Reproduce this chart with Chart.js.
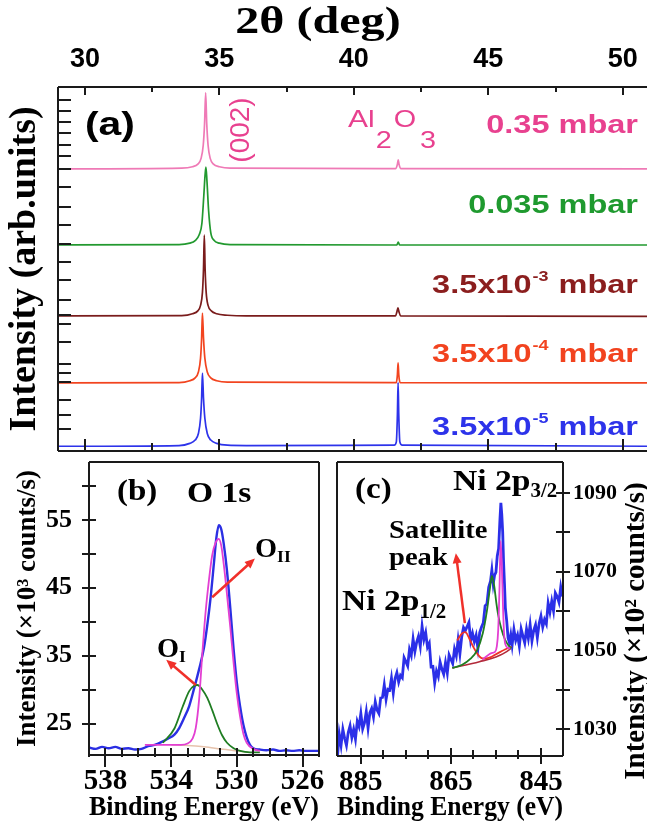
<!DOCTYPE html>
<html lang="en">
<head>
<meta charset="UTF-8">
<title>XRD and XPS of Ni-doped films</title>
<script src="https://cdn.jsdelivr.net/npm/chart.js"></script>
<style>
  body { margin: 0; background: #fff; }
  #wrap { position: relative; width: 647px; height: 827px; overflow: hidden; }
  canvas { position: absolute; }
</style>
</head>
<body>
<div id="wrap">
  <canvas id="xrd" width="647" height="455" style="left:0;top:0"></canvas>
  <canvas id="o1s" width="330" height="372" style="left:0;top:455px"></canvas>
  <canvas id="ni2p" width="317" height="372" style="left:330px;top:455px"></canvas>
</div>
<script>
const SERIF = '"Liberation Serif", "Times New Roman", serif';
const SANS = '"Liberation Sans", Arial, sans-serif';

// ---- (a) XRD patterns, stacked (arb. units, 0..100) ----
const xrdXTicks = [30, 32.5, 35, 37.5, 40, 42.5, 45, 47.5, 50];
const xrdYTicks = [6, 10, 14, 19, 21.5, 24, 30, 35, 37.5, 41.5, 47, 52, 57, 62, 67, 72.5, 77.5, 81, 84, 87.5, 90.5, 93.5, 96.5];
const xrdLabels = [
  ['0.35 mbar', '', ''],
  ['0.035 mbar', '', ''],
  ['3.5x10', '-3', ' mbar'],
  ['3.5x10', '-4', ' mbar'],
  ['3.5x10', '-5', ' mbar']
];
const xrdLineColors = ['#ef7ab6', '#22992f', '#7a1c1c', '#f2441f', '#2d33ea'];
const xrdTextColors = ['#e8418f', '#1f9a2f', '#8b1e1e', '#f2431f', '#2d33ea'];

const xrd0p35 = [[29, 77.5], [33.6, 77.7], [34.0, 78.1], [34.2, 78.8], [34.32, 80.4], [34.4, 84], [34.45, 90], [34.49, 98.4], [34.53, 90], [34.58, 84], [34.66, 80.4], [34.78, 78.8], [35.0, 78.1], [35.4, 77.7], [41.55, 77.6], [41.62, 78.8], [41.65, 80.0], [41.68, 78.8], [41.75, 77.6], [50.9, 77.5]];
const xrd0p035 = [[29, 56.6], [33.5, 56.7], [33.9, 57.1], [34.1, 57.8], [34.25, 59.4], [34.35, 62.5], [34.42, 70], [34.47, 76], [34.5, 78.0], [34.54, 74], [34.6, 66], [34.68, 60], [34.8, 57.9], [35.0, 57.1], [35.4, 56.7], [41.6, 56.6], [41.65, 57.4], [41.7, 56.6], [50.9, 56.6]];
const xrd3em3 = [[29, 37.1], [33.6, 37.2], [34.0, 37.7], [34.2, 38.5], [34.3, 40.0], [34.37, 43.5], [34.41, 50], [34.44, 59.3], [34.47, 50], [34.51, 43.5], [34.58, 40.0], [34.7, 38.5], [34.9, 37.7], [35.3, 37.3], [36.0, 37.1], [41.55, 37.1], [41.6, 38.2], [41.64, 39.3], [41.68, 38.2], [41.74, 37.1], [50.9, 37.0]];
const xrd3em4 = [[29, 18.7], [33.5, 18.8], [33.9, 19.3], [34.1, 20.1], [34.22, 21.7], [34.3, 25.5], [34.34, 31], [34.37, 37.9], [34.41, 31], [34.46, 25.5], [34.55, 21.7], [34.68, 20.1], [34.9, 19.3], [35.3, 18.9], [41.58, 18.8], [41.62, 21], [41.645, 24.2], [41.67, 21], [41.72, 18.8], [50.9, 18.7]];
const xrd3em5 = [[29, 1.3], [33.5, 1.5], [33.9, 2.1], [34.1, 3.0], [34.22, 4.8], [34.3, 9.0], [34.34, 14.5], [34.37, 21.4], [34.41, 14.5], [34.46, 9.0], [34.55, 4.8], [34.68, 3.0], [34.9, 2.1], [35.3, 1.6], [36, 1.5], [41.5, 1.6], [41.58, 2.5], [41.62, 10], [41.645, 18.8], [41.67, 10], [41.71, 2.5], [41.8, 1.6], [50.9, 1.3]];
const xrdSeries = [xrd0p35, xrd0p035, xrd3em3, xrd3em4, xrd3em5];

// ---- (b) O 1s ----
const o1sXTicks = [539, 538, 537, 536, 535, 534, 533, 532, 531, 530, 529, 528, 527, 526, 525];
const o1sXLabels = [538, 534, 530, 526];
const o1sYTicks = [25, 30, 35, 40, 45, 50, 55, 60];
const o1sYLabels = [25, 35, 45, 55];
const o1sMeasured = [[539, 21.5], [538.6, 21.3], [538.2, 21.6], [537.8, 21.4], [537.4, 21.6], [537, 21.3], [536.6, 21.4], [536.2, 21.2], [535.8, 21.3], [535.4, 21.7], [535, 21.9], [534.6, 22.3], [534.2, 22.8], [533.8, 23.4], [533.5, 24.4], [533.2, 25.9], [532.9, 27.6], [532.6, 30.2], [532.3, 33.0], [532.0, 36.2], [531.8, 39.5], [531.6, 43.5], [531.4, 48.5], [531.25, 52.3], [531.1, 54.2], [530.95, 53.6], [530.8, 51.5], [530.6, 47.5], [530.4, 42], [530.2, 36], [530, 31], [529.8, 27.5], [529.6, 24.8], [529.4, 23.0], [529.2, 21.9], [529, 21.4], [528.6, 21.2], [528.2, 21.1], [527.8, 21.2], [527.4, 21.0], [527, 21.1], [526.6, 21.0], [526.2, 21.1], [525.8, 21.0], [525, 21.0]];
const o1sOII = [[535.6, 21.9], [533.4, 21.9], [533, 22.1], [532.7, 22.8], [532.5, 24.4], [532.3, 28.5], [532.1, 35.4], [531.9, 41.5], [531.7, 46.1], [531.5, 49.8], [531.3, 51.6], [531.1, 52.2], [530.95, 51.2], [530.8, 48.5], [530.6, 44], [530.4, 39.2], [530.2, 34], [530.0, 29.4], [529.8, 26], [529.6, 23.5], [529.4, 22.2], [529.0, 21.3], [528.6, 21.0]];
const o1sOI = [[534.5, 22.2], [533.8, 24.3], [533.3, 27.5], [532.9, 29.8], [532.6, 30.6], [532.4, 30.7], [532.1, 30.0], [531.8, 28.8], [531.5, 27.0], [531.2, 25.0], [530.9, 23.3], [530.6, 22.2], [530.2, 21.4], [529.8, 21.0], [529.2, 20.8], [528.6, 20.8]];
const o1sBackground = [[534, 21.9], [533, 21.8], [532, 21.6], [531, 21.3], [530, 21.0], [529.3, 20.8]];

// ---- (c) Ni 2p ----
const niXTicks = [885, 880, 875, 870, 865, 860, 855, 850, 845];
const niXLabels = [885, 865, 845];
const niYTicks = [1030, 1040, 1050, 1060, 1070, 1080, 1090];
const niYLabels = [1030, 1050, 1070, 1090];
const niMeasured = [[890.2, 1022.8], [889.8, 1028.7], [889.4, 1025.8], [889.0, 1029.9], [888.6, 1027.6], [888.2, 1025.8], [887.8, 1029.1], [887.4, 1030.8], [887.0, 1027.8], [886.6, 1029.9], [886.2, 1027.4], [885.8, 1031.9], [885.4, 1030.6], [885.0, 1033.9], [884.6, 1030.0], [884.2, 1031.5], [883.8, 1034.4], [883.4, 1030.2], [883.0, 1034.1], [882.6, 1035.2], [882.2, 1033.0], [881.8, 1036.9], [881.4, 1034.8], [881.0, 1033.9], [880.6, 1037.9], [880.2, 1038.0], [879.8, 1041.2], [879.4, 1037.5], [879.0, 1040.1], [878.6, 1039.9], [878.2, 1042.9], [877.8, 1039.1], [877.4, 1042.8], [877.0, 1044.3], [876.6, 1041.9], [876.2, 1043.6], [875.8, 1043.0], [875.4, 1048.1], [875.0, 1047.1], [874.6, 1046.0], [874.2, 1050.2], [873.8, 1048.7], [873.4, 1052.9], [873.0, 1049.7], [872.6, 1052.1], [872.2, 1053.6], [871.8, 1051.0], [871.4, 1056.1], [871.0, 1052.7], [870.6, 1054.5], [870.2, 1050.8], [869.8, 1051.8], [869.4, 1045.8], [869.0, 1045.9], [868.6, 1041.7], [868.2, 1044.7], [867.8, 1043.3], [867.4, 1047.0], [867.0, 1045.2], [866.6, 1043.9], [866.2, 1046.9], [865.8, 1044.2], [865.4, 1048.8], [865.0, 1047.7], [864.6, 1046.6], [864.2, 1050.3], [863.8, 1048.6], [863.4, 1052.6], [863.0, 1049.1], [862.6, 1053.4], [862.2, 1055.8], [861.8, 1055.0], [861.4, 1056.0], [861.0, 1057.1], [860.6, 1052.4], [860.2, 1054.3], [859.8, 1052.2], [859.4, 1053.8], [859.0, 1050.5], [858.6, 1054.5], [858.2, 1055.9], [857.8, 1057.0], [857.4, 1061.3], [857.0, 1061.8], [856.6, 1066.0], [856.2, 1067.6], [855.9, 1070.4], [855.6, 1066.9], [855.3, 1069.1], [855.0, 1069.8], [854.7, 1074.0], [854.4, 1075.9], [854.1, 1083.4], [853.9, 1087.5], [853.7, 1084.6], [853.5, 1080.2], [853.3, 1072.4], [853.1, 1066.9], [852.9, 1060.8], [852.6, 1057.4], [852.3, 1053.1], [852.0, 1051.9], [851.7, 1053.9], [851.4, 1051.3], [851.0, 1055.3], [850.6, 1052.5], [850.2, 1053.9], [849.8, 1051.0], [849.4, 1055.4], [849.0, 1053.6], [848.6, 1051.9], [848.2, 1055.4], [847.8, 1053.0], [847.4, 1056.5], [847.0, 1052.4], [846.6, 1055.1], [846.2, 1056.5], [845.8, 1053.2], [845.4, 1056.8], [845.0, 1058.7], [844.6, 1055.9], [844.2, 1057.8], [843.8, 1056.7], [843.4, 1062.0], [843.0, 1059.7], [842.6, 1062.5], [842.2, 1060.0], [841.8, 1064.6], [841.4, 1063.7], [841.0, 1062.2], [840.6, 1066.1], [840.2, 1063.7]];
const niMain = [[858, 1047.6], [856.0, 1049.3], [855.2, 1049.6], [854.8, 1051], [854.5, 1055], [854.2, 1066], [853.95, 1077.8], [853.7, 1072], [853.45, 1062], [853.2, 1054.5], [852.9, 1051.5], [852.3, 1050.6], [851.8, 1050.5]];
const niShoulder = [[864.7, 1045.5], [862.5, 1046.3], [860.7, 1047.8], [859.2, 1050], [857.9, 1054.4], [857, 1060], [856.3, 1066], [855.9, 1068.9], [855.4, 1066.5], [854.9, 1062], [854.5, 1059], [853.8, 1055.5], [853, 1052.8], [852.2, 1051.2], [851.6, 1050.5]];
const niSatellite = [[863.6, 1052.5], [862.6, 1054.2], [861.8, 1054.6], [861, 1053.2], [860, 1050.8], [859, 1048.9], [858.2, 1048.0], [857.5, 1047.9], [856, 1048.3], [855, 1049], [854, 1049.6], [853, 1050.2], [852, 1050.7], [851.5, 1050.9]];
const niBackground = [[864.7, 1045.5], [862, 1046.2], [860, 1046.7], [858, 1047.3], [856, 1047.9], [854, 1048.8], [853, 1049.4], [851.6, 1050.5]];

const pts = arr => arr.map(([x, y]) => ({ x, y }));

// ---- drawing helpers ----
function txt(ctx, s, x, y, size, family, color, sx, weight) {
  ctx.save();
  ctx.font = (weight || 'bold') + ' ' + size + 'px ' + family;
  ctx.fillStyle = color;
  ctx.textBaseline = 'alphabetic';
  ctx.translate(x, y);
  ctx.scale(sx || 1, 1);
  ctx.fillText(s, 0, 0);
  const w = ctx.measureText(s).width * (sx || 1);
  ctx.restore();
  return w;
}
function measure(ctx, s, size, family, sx, weight) {
  ctx.save();
  ctx.font = (weight || 'bold') + ' ' + size + 'px ' + family;
  const w = ctx.measureText(s).width * (sx || 1);
  ctx.restore();
  return w;
}
function xTicks(ctx, scale, values, edge, dir, isMajor, majIn, majOut, minIn, minOut) {
  ctx.save();
  ctx.strokeStyle = '#1a1a1a';
  ctx.lineWidth = 2;
  values.forEach(v => {
    const px = Math.round(scale.getPixelForValue(v));
    const inn = isMajor(v) ? majIn : minIn, out = isMajor(v) ? majOut : minOut;
    ctx.beginPath();
    ctx.moveTo(px, edge - dir * out);
    ctx.lineTo(px, edge + dir * inn);
    ctx.stroke();
  });
  ctx.restore();
}
function yTicks(ctx, scale, values, edge, dir, inn, out) {
  ctx.save();
  ctx.strokeStyle = '#1a1a1a';
  ctx.lineWidth = 2;
  values.forEach(v => {
    const py = Math.round(scale.getPixelForValue(v));
    ctx.beginPath();
    ctx.moveTo(edge - dir * out, py);
    ctx.lineTo(edge + dir * inn, py);
    ctx.stroke();
  });
  ctx.restore();
}
function frame(ctx, a, sides) {
  ctx.save();
  ctx.strokeStyle = '#1a1a1a';
  ctx.lineWidth = 2;
  ctx.beginPath();
  if (sides.includes('t')) { ctx.moveTo(a.left, a.top); ctx.lineTo(a.right, a.top); }
  if (sides.includes('b')) { ctx.moveTo(a.left, a.bottom); ctx.lineTo(a.right, a.bottom); }
  if (sides.includes('l')) { ctx.moveTo(a.left, a.top); ctx.lineTo(a.left, a.bottom); }
  if (sides.includes('r')) { ctx.moveTo(a.right, a.top); ctx.lineTo(a.right, a.bottom); }
  ctx.stroke();
  ctx.restore();
}
function arrow(ctx, x1, y1, x2, y2, color) {
  const a = Math.atan2(y2 - y1, x2 - x1), h = 11;
  ctx.save();
  ctx.strokeStyle = color; ctx.fillStyle = color; ctx.lineWidth = 2.5;
  ctx.beginPath(); ctx.moveTo(x1, y1);
  ctx.lineTo(x2 - h * 0.7 * Math.cos(a), y2 - h * 0.7 * Math.sin(a)); ctx.stroke();
  ctx.beginPath(); ctx.moveTo(x2, y2);
  ctx.lineTo(x2 - h * Math.cos(a - 0.42), y2 - h * Math.sin(a - 0.42));
  ctx.lineTo(x2 - h * Math.cos(a + 0.42), y2 - h * Math.sin(a + 0.42));
  ctx.closePath(); ctx.fill();
  ctx.restore();
}
function line(data, color, width, smooth) {
  return {
    data: pts(data), borderColor: color, borderWidth: width, pointRadius: 0,
    fill: false, tension: 0, cubicInterpolationMode: smooth ? 'monotone' : 'default'
  };
}
// force the box size of an axis and drop the label overhang padding
function box(s, w, h) {
  if (w !== null) s.width = w;
  if (h !== null) s.height = h;
  s.paddingTop = s.paddingBottom = s.paddingLeft = s.paddingRight = 0;
}
const noGrid = { display: false, drawTicks: false };
const base = {
  responsive: false, animation: false, events: [],
  plugins: { legend: { display: false }, tooltip: { enabled: false } }
};

// ---- (a) ----
new Chart(document.getElementById('xrd'), {
  type: 'line',
  data: { datasets: xrdSeries.map((s, i) => line(s, xrdLineColors[i], 1.7, true)).reverse() },
  options: {
    ...base,
    layout: { padding: { bottom: 4, right: 0 } },
    scales: {
      x: {
        type: 'linear', position: 'top', min: 29, max: 50.9,
        afterBuildTicks: s => { s.ticks = xrdXTicks.map(v => ({ value: v })); },
        ticks: {
          callback: v => (v % 5 === 0 ? String(v) : ''), autoSkip: false, maxRotation: 0,
          font: { family: SANS, size: 27, weight: 'bold' }, color: '#000', padding: 11
        },
        grid: noGrid, border: { display: false },
        afterFit: s => box(s, null, 87)
      },
      y: {
        min: 0, max: 100,
        ticks: { display: false },
        grid: noGrid, border: { display: false },
        title: {
          display: true, text: 'Intensity (arb.units)', color: '#000',
          font: { family: SERIF, size: 38, weight: 'bold' }, padding: { top: 2, bottom: 0 }
        },
        afterFit: s => box(s, 58, null)
      }
    }
  },
  plugins: [{
    id: 'xrdDecor',
    afterDraw(chart) {
      const ctx = chart.ctx, a = chart.chartArea, sx = chart.scales.x, sy = chart.scales.y;
      frame(ctx, a, 'tbl');
      const maj = v => v % 5 === 0;
      xTicks(ctx, sx, xrdXTicks, a.top, 1, maj, 8, 0, 5, 0);
      xTicks(ctx, sx, xrdXTicks, a.bottom, -1, maj, 12, 0, 8, 0);
      yTicks(ctx, sy, xrdYTicks, a.left, 1, 13, 0);
      // top axis title
      const tw = measure(ctx, '2θ (deg)', 37, SERIF, 1.3);
      txt(ctx, '2θ (deg)', 318 - tw / 2, 33, 37, SERIF, '#000', 1.3);
      txt(ctx, '(a)', 85, 135, 34, SANS, '#000', 1.2);
      // (002)
      ctx.save();
      ctx.translate(241, 130); ctx.rotate(-Math.PI / 2);
      ctx.font = '28px ' + SANS; ctx.fillStyle = '#e8418f';
      ctx.textAlign = 'center'; ctx.textBaseline = 'middle';
      ctx.fillText('(002)', 0, 0);
      ctx.restore();
      // Al2O3
      let x = 348;
      x += txt(ctx, 'Al', x, 127, 24, SANS, '#e8418f', 1.25, 'normal');
      x += txt(ctx, '2', x + 1, 148, 24, SANS, '#e8418f', 1.2, 'normal') + 3;
      x += txt(ctx, 'O', x, 127, 24, SANS, '#e8418f', 1.2, 'normal');
      txt(ctx, '3', x + 4, 148, 24, SANS, '#e8418f', 1.2, 'normal');
      // pressure labels, right aligned
      const baselines = [133, 213, 293, 362, 435];
      xrdLabels.forEach((lab, i) => {
        const w1 = measure(ctx, lab[0], 26, SANS, 1.25);
        const w2 = lab[1] ? measure(ctx, lab[1], 15, SANS, 1.2) + 2 : 0;
        const w3 = lab[2] ? measure(ctx, lab[2], 26, SANS, 1.25) : 0;
        let px = 638 - (w1 + w2 + w3);
        const c = xrdTextColors[i], b = baselines[i];
        px += txt(ctx, lab[0], px, b, 26, SANS, c, 1.25);
        if (lab[1]) px += txt(ctx, lab[1], px + 1, b - 12, 15, SANS, c, 1.2) + 2;
        if (lab[2]) txt(ctx, lab[2], px, b, 26, SANS, c, 1.25);
      });
    }
  }]
});

// ---- (b) ----
new Chart(document.getElementById('o1s'), {
  type: 'line',
  data: {
    datasets: [
      line(o1sOII, '#e33fd2', 1.8, true),
      line(o1sOI, '#1f7d22', 1.8, true),
      line(o1sMeasured, '#2b2fe3', 2.4, true),
      line(o1sBackground, '#e6c3ad', 1.5, true)
    ]
  },
  options: {
    ...base,
    layout: { padding: { top: 7, right: 11 } },
    scales: {
      x: {
        type: 'linear', reverse: true, min: 525, max: 539,
        afterBuildTicks: s => { s.ticks = o1sXTicks.map(v => ({ value: v })); },
        ticks: {
          callback: v => (o1sXLabels.includes(v) ? String(v) : ''), autoSkip: false, maxRotation: 0,
          font: { family: SERIF, size: 29, weight: 'bold' }, color: '#000', padding: 9
        },
        grid: noGrid, border: { display: false },
        title: {
          display: true, text: 'Binding Energy (eV)', color: '#000',
          font: { family: SERIF, size: 28, weight: 'bold' }, padding: { top: 0, bottom: 2 }
        },
        afterFit: s => box(s, null, 72)
      },
      y: {
        min: 20.4, max: 63.5,
        afterBuildTicks: s => { s.ticks = o1sYTicks.map(v => ({ value: v })); },
        ticks: {
          callback: v => (o1sYLabels.includes(v) ? String(v) : ''), autoSkip: false,
          font: { family: SERIF, size: 26, weight: 'bold' }, color: '#000', padding: 17
        },
        grid: noGrid, border: { display: false },
        title: {
          display: true, text: 'Intensity (×10³ counts/s)', color: '#000',
          font: { family: SERIF, size: 27, weight: 'bold' }, padding: { top: 12, bottom: 0 }
        },
        afterFit: s => box(s, 89, null)
      }
    }
  },
  plugins: [{
    id: 'o1sDecor',
    afterDraw(chart) {
      const ctx = chart.ctx, a = chart.chartArea, sx = chart.scales.x, sy = chart.scales.y;
      frame(ctx, a, 'tblr');
      xTicks(ctx, sx, o1sXTicks, a.bottom, -1, v => o1sXLabels.includes(v), 7, 12, 7, 2);
      yTicks(ctx, sy, o1sYTicks, a.left, 1, 7, 7);
      txt(ctx, '(b)', 117, 45, 30, SERIF, '#000', 1.1);
      txt(ctx, 'O 1s', 187, 47, 30, SERIF, '#000', 1.12);
      const P = (x, y) => [sx.getPixelForValue(x), sy.getPixelForValue(y)];
      const [a1x, a1y] = P(532.5, 30.7), [h1x, h1y] = P(534.3, 34.4);
      arrow(ctx, a1x, a1y, h1x, h1y, '#f0302a');
      const [a2x, a2y] = P(531.5, 43.6), [h2x, h2y] = P(528.9, 49.3);
      arrow(ctx, a2x, a2y, h2x, h2y, '#f0302a');
      let w = txt(ctx, 'O', 157, 202, 27, SERIF, '#000', 1.05);
      txt(ctx, 'I', 157 + w, 207, 16, SERIF, '#000', 1.1);
      w = txt(ctx, 'O', 255, 102, 27, SERIF, '#000', 1.05);
      txt(ctx, 'II', 255 + w, 107, 16, SERIF, '#000', 1.1);
    }
  }]
});

// ---- (c) ----
new Chart(document.getElementById('ni2p'), {
  type: 'line',
  data: {
    datasets: [
      line(niMain, '#e33fd2', 1.8, true),
      line(niShoulder, '#1f7d22', 1.8, true),
      line(niSatellite, '#ef3128', 1.8, true),
      line(niMeasured, '#2b2fe8', 2.8, false),
      line(niBackground, '#b22a3a', 1.6, true)
    ]
  },
  options: {
    ...base,
    layout: { padding: { top: 7, left: 7 } },
    scales: {
      x: {
        type: 'linear', reverse: true, min: 840.1, max: 890.3,
        afterBuildTicks: s => { s.ticks = niXTicks.map(v => ({ value: v })); },
        ticks: {
          callback: v => (niXLabels.includes(v) ? String(v) : ''), autoSkip: false, maxRotation: 0,
          font: { family: SERIF, size: 29, weight: 'bold' }, color: '#000', padding: 9
        },
        grid: noGrid, border: { display: false },
        title: {
          display: true, text: 'Binding Energy (eV)', color: '#000',
          font: { family: SERIF, size: 28, weight: 'bold' }, padding: { top: 0, bottom: 2 }
        },
        afterFit: s => box(s, null, 71)
      },
      y: {
        position: 'right', min: 1023.1, max: 1097.9,
        afterBuildTicks: s => { s.ticks = niYTicks.map(v => ({ value: v })); },
        ticks: {
          callback: v => (niYLabels.includes(v) ? String(v) : ''), autoSkip: false,
          font: { family: SERIF, size: 22, weight: 'bold' }, color: '#000', padding: 10
        },
        grid: noGrid, border: { display: false },
        afterFit: s => box(s, 84, null)
      }
    }
  },
  plugins: [{
    id: 'niDecor',
    afterDraw(chart) {
      const ctx = chart.ctx, a = chart.chartArea, sx = chart.scales.x, sy = chart.scales.y;
      frame(ctx, a, 'tblr');
      xTicks(ctx, sx, niXTicks, a.bottom, -1, v => niXLabels.includes(v), 8, 8, 6, 3);
      yTicks(ctx, sy, niYTicks, a.right, -1, 7, 7);
      // right axis title, reading bottom to top
      ctx.save();
      ctx.translate(307, 176); ctx.rotate(-Math.PI / 2);
      ctx.font = 'bold 29px ' + SERIF; ctx.fillStyle = '#000';
      ctx.textAlign = 'center'; ctx.textBaseline = 'middle';
      ctx.fillText('Intensity (×10² counts/s)', 0, 0);
      ctx.restore();
      txt(ctx, '(c)', 25, 43, 30, SERIF, '#000', 1.1);
      let w = txt(ctx, 'Ni 2p', 123, 35, 30, SERIF, '#000', 1.12);
      txt(ctx, '3/2', 123 + w, 42, 20, SERIF, '#000', 1.05);
      txt(ctx, 'Satellite', 59, 83, 26, SERIF, '#000', 1.1);
      txt(ctx, 'peak', 59, 110, 26, SERIF, '#000', 1.1);
      w = txt(ctx, 'Ni 2p', 12, 155, 30, SERIF, '#000', 1.12);
      txt(ctx, '1/2', 12 + w, 163, 20, SERIF, '#000', 1.05);
      const [tx, ty] = [sx.getPixelForValue(861.9), sy.getPixelForValue(1056.9)];
      const [hx, hy] = [sx.getPixelForValue(863.9), sy.getPixelForValue(1074.7)];
      arrow(ctx, tx, ty, hx, hy, '#f0302a');
    }
  }]
});
</script>
</body>
</html>
